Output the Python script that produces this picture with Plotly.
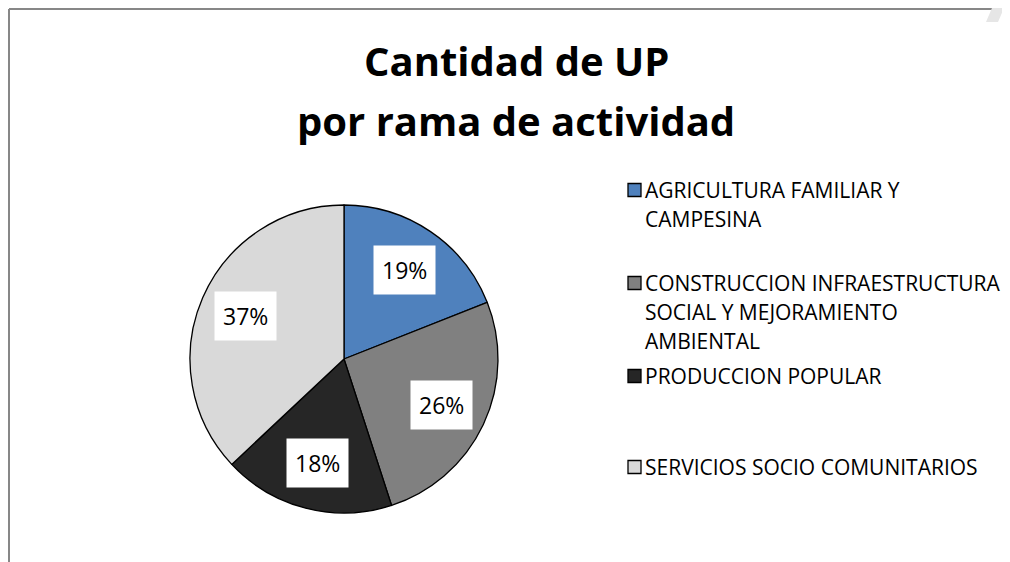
import math
import plotly.graph_objects as go

# ---- data ----
categories = [
    "AGRICULTURA FAMILIAR Y CAMPESINA",
    "CONSTRUCCION INFRAESTRUCTURA SOCIAL Y MEJORAMIENTO AMBIENTAL",
    "PRODUCCION POPULAR",
    "SERVICIOS SOCIO COMUNITARIOS",
]
legend_lines = [
    ["AGRICULTURA FAMILIAR Y", "CAMPESINA"],
    ["CONSTRUCCION INFRAESTRUCTURA", "SOCIAL Y MEJORAMIENTO", "AMBIENTAL"],
    ["PRODUCCION POPULAR"],
    ["SERVICIOS SOCIO COMUNITARIOS"],
]
values = [19, 26, 18, 37]
colors = ["#4F81BD", "#808080", "#262626", "#D9D9D9"]
title_lines = ["Cantidad de UP", "por rama de actividad"]

W, H = 1010, 562
FONT = "Open Sans"

# pie geometry (pixels, plot coordinates)
cx, cy, R = 336, 351, 154

fig = go.Figure()
fig.add_trace(go.Pie(
    labels=categories, values=values, sort=False, direction="clockwise",
    rotation=0, textinfo="none", hoverinfo="label+percent",
    marker=dict(colors=colors, line=dict(color="#000000", width=1.3)),
    domain=dict(x=[(cx - R) / W, (cx + R) / W],
                y=[(H - cy - R) / H, (H - cy + R) / H]),
    showlegend=False,
))

annotations = []
shapes = []

# percentage labels in white boxes
total = sum(values)
cum = 0
for v in values:
    mid = (cum + v / 2) / total * 2 * math.pi
    cum += v
    rr = 0.70 * R
    px = cx + rr * math.sin(mid)
    py = cy - rr * math.cos(mid)
    annotations.append(dict(
        x=px / W, y=1 - py / H, xref="paper", yref="paper",
        text=f"{round(v / total * 100)}%", showarrow=False,
        font=dict(family=FONT, size=23, color="#000000"),
        bgcolor="#FFFFFF", borderpad=8, xanchor="center", yanchor="middle",
    ))

# title
title_y = [52, 112]
for t, ty in zip(title_lines, title_y):
    annotations.append(dict(
        x=508 / W, y=1 - ty / H, xref="paper", yref="paper", text=f"<b>{t}</b>",
        showarrow=False, font=dict(family=FONT, size=40, color="#000000"),
        xanchor="center", yanchor="middle",
    ))

# manual legend
entry_first_y = [182, 275, 368, 459]
line_gap = 29
for lines, col, y0 in zip(legend_lines, colors, entry_first_y):
    shapes.append(dict(type="rect", xref="paper", yref="paper",
                       x0=620 / W, x1=633 / W, y0=1 - (y0 - 6.5) / H, y1=1 - (y0 + 6.5) / H,
                       fillcolor=col, line=dict(color="#000000", width=1.3)))
    for i, ln in enumerate(lines):
        annotations.append(dict(
            x=635 / W, y=1 - (y0 + i * line_gap) / H, xref="paper", yref="paper",
            text=ln, showarrow=False, font=dict(family=FONT, size=21, color="#000000"),
            xanchor="left", yanchor="middle",
        ))

# chart frame lines (left and top)
shapes.append(dict(type="line", xref="paper", yref="paper", x0=1 / W, x1=1 / W,
                   y0=0, y1=1 - 1 / H, line=dict(color="#878787", width=2)))
shapes.append(dict(type="line", xref="paper", yref="paper", x0=1 / W, x1=1,
                   y0=1 - 1 / H, y1=1 - 1 / H, line=dict(color="#878787", width=2)))
shapes.append(dict(type="path", xref="paper", yref="paper",
                   path=f"M {984 / W} 1 L {996 / W} 1 L {990 / W} {1 - 14 / H} L {978 / W} {1 - 14 / H} Z",
                   fillcolor="#E6E6E6", line=dict(width=0)))

fig.update_layout(
    width=W, height=H, margin=dict(l=0, r=0, t=0, b=0),
    paper_bgcolor="#FFFFFF", plot_bgcolor="#FFFFFF",
    annotations=annotations, shapes=shapes, showlegend=False,
)
fig.write_html("out.html")
